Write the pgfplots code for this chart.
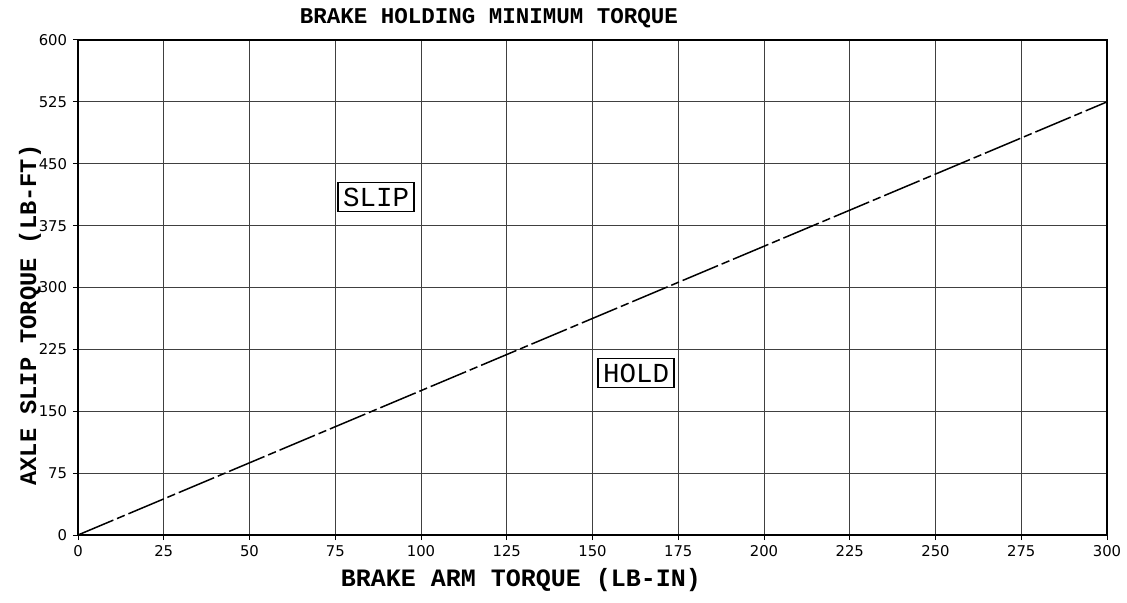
\documentclass[border=0pt]{standalone}
\usepackage{fontspec}
\usepackage{pgfplots}
\pgfplotsset{compat=1.18}
\setmainfont{Liberation Mono}
\newfontfamily\dejavu{DejaVu Sans}
\begin{document}
\begin{tikzpicture}
\path[use as bounding box] (-46.8pt,-40.2pt) rectangle (629.4pt,321pt);
\begin{axis}[
  at={(0,0)}, anchor=south west,
  scale only axis, width=617.4pt, height=297pt,
  xmin=0, xmax=300, ymin=0, ymax=600,
  xtick={0,25,...,300}, ytick={0,75,...,600},
  grid=major,
  major grid style={color=black!75, line width=0.6pt},
  axis line style={line width=0.9pt},
  tick style={black, line width=0.6pt},
  tick align=outside, major tick length=3pt,
  xtick pos=bottom, ytick pos=left,
  /pgf/number format/assume math mode=true,
  ticklabel style={font=\dejavu\fontsize{8.9}{10}\selectfont},
  xlabel={\bfseries\fontsize{15}{17}\selectfont BRAKE ARM TORQUE (LB-IN)},
  xlabel style={at={(0.4305,0)}, anchor=center, yshift=-27pt},
]
\addplot[black, line width=0.9pt, dash pattern=on 23pt off 2.4pt on 5pt off 2.4pt] coordinates {(0,0) (300,525)};
\node[draw, line width=0.8pt, inner sep=3pt, font=\fontsize{16.5}{18}\selectfont] at (axis cs:86.9,409.7) {SLIP};
\node[draw, line width=0.8pt, inner sep=3pt, font=\fontsize{16.5}{18}\selectfont] at (axis cs:162.7,196.4) {HOLD};
\end{axis}
\node[font=\bfseries\fontsize{13.5}{15}\selectfont] at (246.6pt,310.2pt) {BRAKE HOLDING MINIMUM TORQUE};
\node[rotate=90, font=\bfseries\fontsize{14.2}{16}\selectfont] at (-28.8pt,131.9pt) {AXLE SLIP TORQUE (LB-FT)};
\end{tikzpicture}
\end{document}
